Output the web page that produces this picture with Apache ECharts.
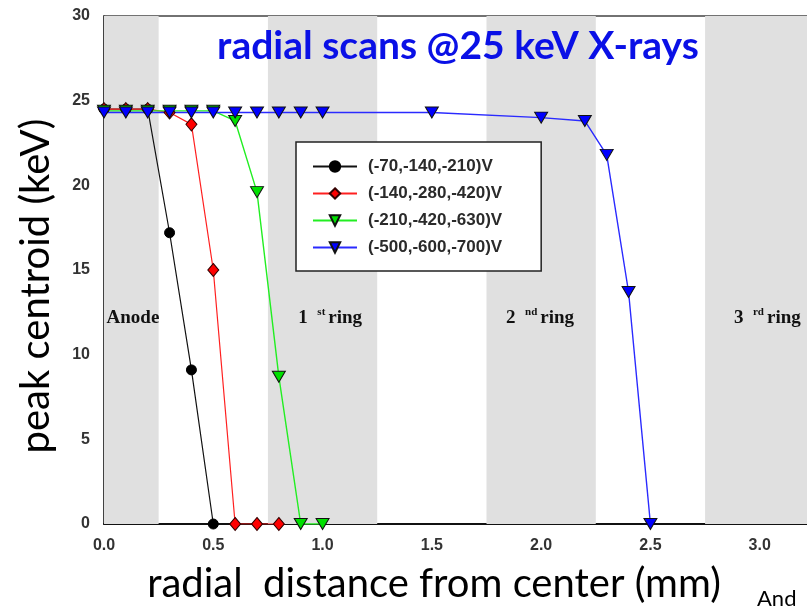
<!DOCTYPE html>
<html>
<head>
<meta charset="utf-8">
<script src="https://cdn.jsdelivr.net/npm/echarts@6/dist/echarts.min.js"></script>
<style>
  html, body { margin: 0; padding: 0; background: #fff; overflow: hidden; }
  #chart { width: 807px; height: 608px; }
</style>
</head>
<body>
<div id="chart"></div>
<script>
// Radial scan measurements: peak centroid vs. distance from the detector center
const seriesNames = ['(-70,-140,-210)V', '(-140,-280,-420)V', '(-210,-420,-630)V', '(-500,-600,-700)V'];

const radiusBlack = [0.0, 0.1, 0.2, 0.3, 0.4, 0.5];
const centroidBlack = [24.5, 24.5, 24.5, 17.2, 9.1, 0.0];

const radiusRed = [0.0, 0.1, 0.2, 0.3, 0.4, 0.5, 0.6, 0.7, 0.8];
const centroidRed = [24.5, 24.5, 24.5, 24.3, 23.6, 15.0, 0.0, 0.0, 0.0];

const radiusGreen = [0.0, 0.1, 0.2, 0.3, 0.4, 0.5, 0.6, 0.7, 0.8, 0.9, 1.0];
const centroidGreen = [24.4, 24.4, 24.4, 24.4, 24.4, 24.4, 23.8, 19.6, 8.7, 0.0, 0.0];

const radiusBlue = [0.0, 0.1, 0.2, 0.3, 0.4, 0.5, 0.6, 0.7, 0.8, 0.9, 1.0, 1.5, 2.0, 2.2, 2.3, 2.4, 2.5];
const centroidBlue = [24.3, 24.3, 24.3, 24.3, 24.3, 24.3, 24.3, 24.3, 24.3, 24.3, 24.3, 24.3, 24.0, 23.8, 21.8, 13.7, 0.0];

// Electrode regions (mm) shaded in grey
const regionStart = [0.0, 0.75, 1.75, 2.75];
const regionEnd = [0.25, 1.25, 2.25, 3.5];
const regionNames = ['Anode', '1st ring', '2nd ring', '3rd ring'];

const xTicks = [0.0, 0.5, 1.0, 1.5, 2.0, 2.5, 3.0];
const yTicks = [0, 5, 10, 15, 20, 25, 30];

const zip = (xs, ys) => xs.map((x, i) => [x, ys[i]]);

// Region labels with superscript ordinal suffixes
const regionLabel = (name) => {
  const m = name.match(/^(\d)(st|nd|rd) (.*)$/);
  if (!m) return '{b|' + name + '}';
  return '{b|' + m[1] + '  }{sup|' + m[2] + '}{b|' + m[3] + '}';
};
const labelPos = [['53%', '59.4%'], ['57%', '59.4%'], ['49%', '59.4%'], ['38%', '59.4%']];

const chart = echarts.init(document.getElementById('chart'), null, { renderer: 'canvas' });

const axisLabelStyle = { fontFamily: 'Liberation Sans', fontWeight: 'bold', fontSize: 16, color: '#333' };
const triangleDown = { symbol: 'triangle', symbolRotate: 180, symbolSize: [13, 11] };

chart.setOption({
  animation: false,
  backgroundColor: '#fff',
  title: {
    text: 'radial scans @25 keV X-rays',
    left: 453, top: 22, textAlign: 'center',
    textStyle: { fontFamily: 'Lato', fontWeight: 'bold', fontSize: 39, color: '#0a10e6' }
  },
  grid: {
    left: 104, top: 16, width: 765, height: 508,
    outerBoundsMode: 'none', containLabel: false,
    show: true, borderColor: '#444', borderWidth: 1.5, backgroundColor: 'transparent'
  },
  legend: {
    data: seriesNames,
    orient: 'vertical',
    left: 296, top: 142,
    padding: [16, 39, 15, 16],
    itemWidth: 44, itemHeight: 13, itemGap: 10,
    backgroundColor: '#fff',
    borderColor: '#222', borderWidth: 1.5, borderRadius: 0,
    textStyle: { fontFamily: 'Liberation Sans', fontWeight: 'bold', fontSize: 17, lineHeight: 17, color: '#2a2a2a', padding: [0, 0, 0, 6] }
  },
  xAxis: {
    type: 'value', min: 0, max: 3.5, interval: 0.5,
    axisLine: { show: true, lineStyle: { color: '#111', width: 2 } },
    axisTick: { show: false },
    splitLine: { show: false },
    axisLabel: Object.assign({ margin: 14, formatter: (v) => xTicks.includes(v) ? v.toFixed(1) : '' }, axisLabelStyle)
  },
  yAxis: {
    type: 'value', min: 0, max: 30, interval: 5,
    axisLine: { show: true, lineStyle: { color: '#333', width: 1.5 } },
    axisTick: { show: false },
    splitLine: { show: false },
    axisLabel: Object.assign({ margin: 14, formatter: (v) => yTicks.includes(v) ? String(v) : '' }, axisLabelStyle)
  },
  graphic: [
    {
      type: 'text', x: 434, y: 584,
      style: { text: 'radial  distance from center (mm)', fontFamily: 'Lato', fontSize: 40, fill: '#000', align: 'center', verticalAlign: 'middle' }
    },
    {
      type: 'text', x: 36, y: 286, rotation: Math.PI / 2,
      style: { text: 'peak centroid (keV)', fontFamily: 'Lato', fontSize: 40, fill: '#000', align: 'center', verticalAlign: 'middle' }
    },
    { type: 'text', left: 757, top: 588, style: { text: 'And', fontFamily: 'Lato', fontSize: 22, fill: '#000' } }
  ],
  series: [
    {
      // shaded electrode regions
      name: 'regions', type: 'line', data: [], silent: true,
      markArea: {
        silent: true,
        itemStyle: { color: '#e0e0e0' },
        data: regionStart.map((s, i) => [
          {
            xAxis: s, yAxis: 0,
            label: {
              show: true, position: labelPos[i], align: 'center', verticalAlign: 'middle',
              formatter: regionLabel(regionNames[i]),
              rich: {
                b: { fontFamily: 'Liberation Serif', fontWeight: 'bold', fontSize: 19, color: '#111' },
                sup: { fontFamily: 'Liberation Serif', fontWeight: 'bold', fontSize: 11, color: '#111', padding: [0, 3, 12, 0] }
              }
            }
          },
          { xAxis: regionEnd[i], yAxis: 30 }
        ])
      }
    },
    {
      name: seriesNames[0], type: 'line', data: zip(radiusBlack, centroidBlack),
      symbol: 'circle', symbolSize: 10,
      lineStyle: { color: '#111', width: 1.2 },
      itemStyle: { color: '#000', borderColor: '#000', borderWidth: 1 }
    },
    {
      name: seriesNames[1], type: 'line', data: zip(radiusRed, centroidRed),
      symbol: 'diamond', symbolSize: [11, 13],
      lineStyle: { color: '#ff2020', width: 1.2 },
      itemStyle: { color: '#ff0000', borderColor: '#300', borderWidth: 1 }
    },
    Object.assign({
      name: seriesNames[2], type: 'line', data: zip(radiusGreen, centroidGreen),
      lineStyle: { color: '#22ee22', width: 1.4 },
      itemStyle: { color: '#00e000', borderColor: '#111', borderWidth: 1 }
    }, triangleDown),
    Object.assign({
      name: seriesNames[3], type: 'line', data: zip(radiusBlue, centroidBlue),
      lineStyle: { color: '#2a2aff', width: 1.4 },
      itemStyle: { color: '#0000ff', borderColor: '#111', borderWidth: 1 }
    }, triangleDown)
  ]
});
</script>
</body>
</html>
